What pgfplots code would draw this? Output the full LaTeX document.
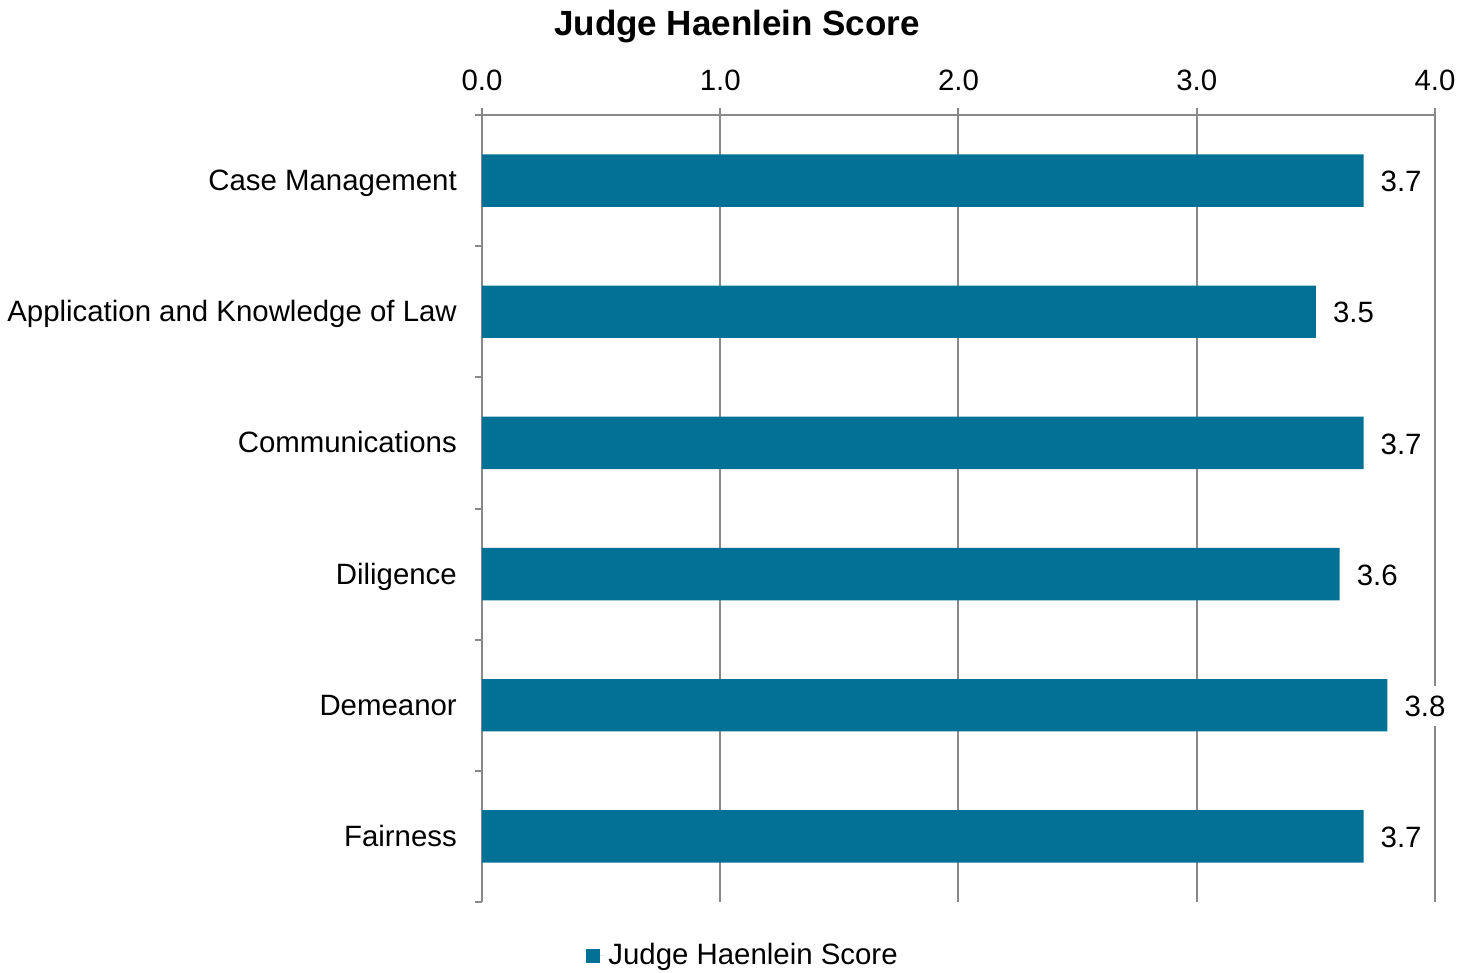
\documentclass[border=0pt]{standalone}
\usepackage{fontspec}
\setmainfont{Liberation Sans}
\usepackage{pgfplots}
\pgfplotsset{compat=1.18}
\definecolor{barblue}{RGB}{3,112,150}
\definecolor{gridgray}{RGB}{137,137,137}
\begin{document}
\fontsize{14.7pt}{17pt}\selectfont
\begin{tikzpicture}
\begin{axis}[
  scale only axis,
  width=476.5pt, height=393.5pt,
  xbar, bar width=0.4,
  xmin=0, xmax=4, ymin=-0.5, ymax=5.5,
  y dir=reverse,
  axis x line*=top, axis y line*=left,
  axis line style={gridgray, line width=1pt},
  tick align=outside,
  major tick length=3.5pt, minor tick length=3.5pt,
  tick style={gridgray, line width=1pt},
  major y tick style={draw=none},
  xtick={0,1,2,3,4},
  xticklabel style={/pgf/number format/fixed, /pgf/number format/fixed zerofill,
    /pgf/number format/precision=1, yshift=3.5pt},
  /pgf/number format/assume math mode=true,
  ytick={0,...,5},
  yticklabels={Case Management, Application and Knowledge of Law, Communications, Diligence, Demeanor, Fairness},
  yticklabel style={anchor=base east, xshift=-4pt, yshift=-5pt},
  minor ytick={-0.5,0.5,...,5.5},
  xmajorgrids,
  major grid style={gridgray, line width=1pt},
  point meta=x,
  nodes near coords={\pgfmathprintnumber[fixed, fixed zerofill, precision=1]{\pgfplotspointmeta}},
  nodes near coords style={fill=white, anchor=west, xshift=3.5pt, yshift=-0.5pt},
  title={Judge Haenlein Score},
  title style={at={(axis description cs:0.2676,1.0978)}, anchor=center,
    font=\bfseries\fontsize{17.5pt}{20pt}\selectfont},
  legend style={at={(axis description cs:0.275,-0.0686)}, anchor=center, draw=none,
    inner sep=0pt},
  legend image code/.code={\path (0pt,0pt) -- (9pt,0pt);
    \fill[barblue] (0pt,-3.5pt) rectangle (7pt,3.5pt);},
]
\addplot[fill=barblue, draw=none] coordinates {(3.7,0) (3.5,1) (3.7,2) (3.6,3) (3.8,4) (3.7,5)};
\addlegendentry{Judge Haenlein Score}
\end{axis}
\pgfresetboundingbox
\path[use as bounding box] (-241pt,-35.5pt) rectangle (495.5pt,451pt);
\end{tikzpicture}
\end{document}
